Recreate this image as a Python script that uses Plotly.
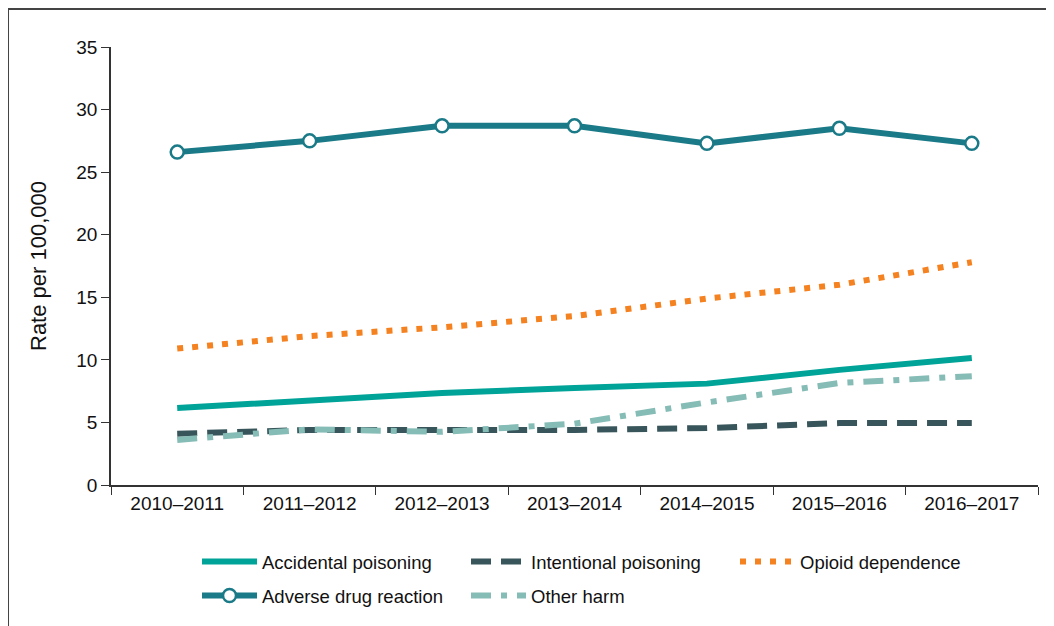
import plotly.graph_objects as go

years = ['2010–2011', '2011–2012', '2012–2013', '2013–2014', '2014–2015', '2015–2016', '2016–2017']

accidental = [6.15, 6.8, 7.35, 7.75, 8.1, 9.2, 10.15]
intentional = [4.1, 4.4, 4.4, 4.4, 4.55, 4.95, 4.95]
opioid = [10.9, 11.9, 12.6, 13.5, 14.9, 16.0, 17.8]
adverse = [26.6, 27.5, 28.7, 28.7, 27.3, 28.5, 27.3]
other = [3.6, 4.45, 4.25, 4.9, 6.6, 8.15, 8.7]

FONT = 'Liberation Sans Narrow, Arial Narrow, Liberation Sans, Arial, sans-serif'

fig = go.Figure()
fig.add_trace(go.Scatter(x=years, y=accidental, mode='lines', name='Accidental poisoning',
                         line=dict(color='#00A398', width=6)))
fig.add_trace(go.Scatter(x=years, y=intentional, mode='lines', name='Intentional poisoning',
                         line=dict(color='#37555A', width=6, dash='20px,10px')))
fig.add_trace(go.Scatter(x=years, y=opioid, mode='lines', name='Opioid dependence',
                         line=dict(color='#F58220', width=6, dash='6px,9px')))
fig.add_trace(go.Scatter(x=years, y=adverse, mode='lines+markers', name='Adverse drug reaction',
                         line=dict(color='#1A7A87', width=6), legend='legend2',
                         marker=dict(size=13, color='white', line=dict(color='#1A7A87', width=2.5))))
fig.add_trace(go.Scatter(x=years, y=other, mode='lines', name='Other harm', legend='legend2',
                         line=dict(color='#86BCB6', width=6, dash='20px,10px,6px,10px')))

# page body has an 8px margin, so the figure is sized/offset to compensate
legend_style = dict(orientation='h', xref='container', yref='container',
                    x=0.1807, xanchor='left', yanchor='middle',
                    entrywidth=199, itemwidth=55, font=dict(size=18.5),
                    traceorder='normal')

fig.update_layout(
    width=1046, height=618,
    paper_bgcolor='white', plot_bgcolor='white',
    font=dict(family=FONT, size=18, color='#111'),
    margin=dict(l=103, r=16, t=39, b=141, autoexpand=False),
    showlegend=True,
    legend=dict(legend_style, y=0.1036),
    legend2=dict(legend_style, y=0.0485),
    xaxis=dict(range=[-0.5, 6.5], showline=True, linecolor='#333', linewidth=1.5, ticks='outside',
               ticklen=8, tickcolor='#333', tickson='boundaries', showgrid=False,
               zeroline=False, automargin=False, tickfont=dict(size=19)),
    yaxis=dict(range=[0, 35], dtick=5, showline=True, linecolor='#333', linewidth=1.5,
               ticks='outside', ticklen=8, tickcolor='#333', showgrid=False, zeroline=False,
               automargin=False, tickfont=dict(size=19),
               title=dict(text='Rate per 100,000', standoff=24)),
)

# outer frame (top and left edges)
fig.add_shape(type='line', xref='paper', yref='paper', x0=-0.1111, x1=1.02, y0=1.0868, y1=1.0868,
              line=dict(color='#444', width=2))
fig.add_shape(type='line', xref='paper', yref='paper', x0=-0.1111, x1=-0.1111, y0=1.0868, y1=-0.33,
              line=dict(color='#444', width=2))

fig.write_html('out.html')
